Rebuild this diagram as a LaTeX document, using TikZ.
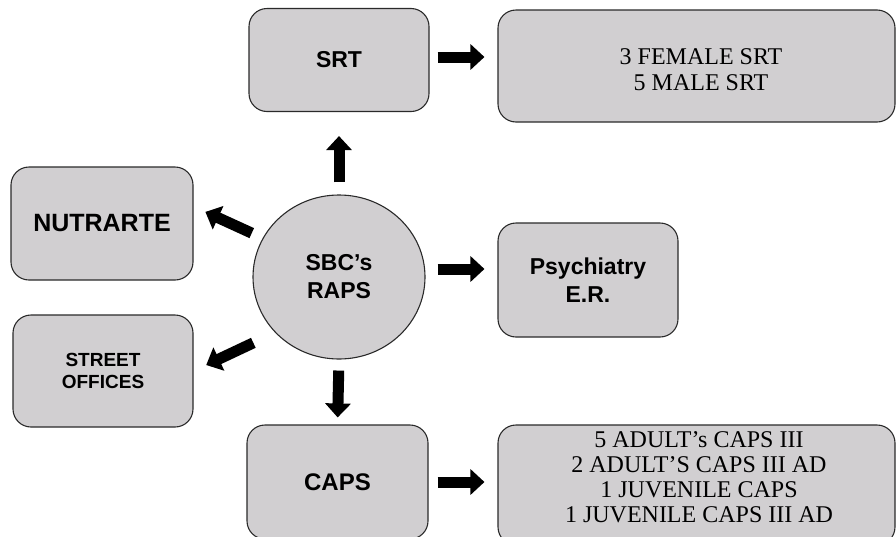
\documentclass[tikz,border=0pt]{standalone}
\usepackage{fontspec}
\setmainfont{Liberation Serif}
\setsansfont{Liberation Sans}
\usetikzlibrary{shapes.geometric,arrows.meta,calc}
\definecolor{boxfill}{HTML}{D1CFD1}
\definecolor{boxline}{HTML}{2A2A2A}
\begin{document}
\begin{tikzpicture}[x=1pt,y=-1pt,
  box/.style={draw=boxline, fill=boxfill, line width=1.1pt, rounded corners=18pt, inner sep=0pt, align=center, text=black},
  sansbox/.style={box, font=\sffamily\bfseries\fontsize{23}{28}\selectfont},
  seriftext/.style={align=center, inner sep=0pt, text=black},
  bigarrow/.style={line width=11pt, black, -{Triangle[width=25pt,length=14pt]}}]
\useasboundingbox (0,0) rectangle (896,536);
\clip (0,0) rectangle (896,536);
\node[sansbox, minimum width=180pt, minimum height=103pt] (srt) at (339,60) {SRT};
\node[box, minimum width=397pt, minimum height=112pt] (srtd) at (696.5,66) {};
\node[seriftext, font=\fontsize{24}{26}\selectfont] (srttext) at (701,70) {3 FEMALE SRT\\5 MALE SRT};
\node[sansbox, minimum width=182pt, minimum height=113pt, font=\sffamily\bfseries\fontsize{25}{28}\selectfont] (nutr) at (102,223.5) {NUTRARTE};
\node[box, font=\sffamily\bfseries\fontsize{19}{22}\selectfont, minimum width=180pt, minimum height=112pt] (street) at (103,371) {STREET\\OFFICES};
\node[ellipse, draw=boxline, fill=boxfill, line width=1.1pt, inner sep=0pt, minimum width=172pt, minimum height=164pt, align=center, font=\sffamily\bfseries\fontsize{23}{28}\selectfont] (raps) at (339,277) {SBC’s\\RAPS};
\node[sansbox, minimum width=180pt, minimum height=114pt] (psy) at (588,280) {Psychiatry\\E.R.};
\node[sansbox, minimum width=181pt, minimum height=114pt, font=\sffamily\bfseries\fontsize{24}{28}\selectfont] (caps) at (337.5,482) {CAPS};
\node[box, minimum width=397pt, minimum height=120pt] (capsd) at (696.5,485) {};
\node[seriftext, font=\fontsize{24}{25}\selectfont] (capstext) at (699,477) {5 ADULT’s CAPS III\\2 ADULT’S CAPS III AD\\1 JUVENILE CAPS\\1 JUVENILE CAPS III AD};
\draw[bigarrow, shorten <=8pt, shorten >=13pt] ([yshift=3pt]srt.east) -- ([yshift=3pt]srt.east -| srtd.west);
\draw[bigarrow, shorten <=12pt, shorten >=24pt] (raps.north) -- (srt.south);
\draw[bigarrow, shorten <=12pt, shorten >=13pt] (raps.153) -- ([yshift=17pt]nutr.east);
\draw[bigarrow, shorten <=24pt, shorten >=14pt] (raps.221) -- (street.east);
\draw[bigarrow, shorten <=12pt, shorten >=13pt] ([yshift=8pt]raps.east) -- ([yshift=8pt]raps.east -| psy.west);
\draw[bigarrow, shorten <=11pt, shorten >=7pt] (raps.south) -- (caps.north);
\draw[bigarrow, shorten <=9pt, shorten >=13pt] (caps.east) -- (caps.east -| capsd.west);
\end{tikzpicture}
\end{document}
